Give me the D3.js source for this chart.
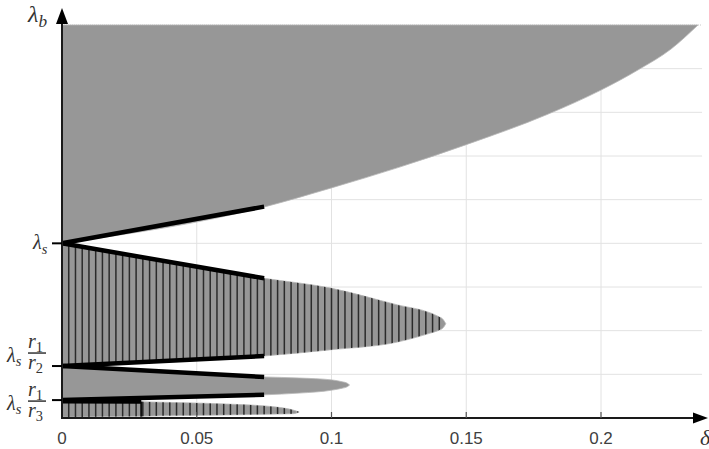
<!DOCTYPE html>
<html>
<head>
<meta charset="utf-8">
<script src="https://cdn.jsdelivr.net/npm/d3@7"></script>
<style>
  body { margin: 0; background: #fff; }
  .tick-label { font-family: "Liberation Sans", Arial, sans-serif; font-size: 17px; fill: #404040; }
  .math { font-family: "Liberation Serif", "DejaVu Serif", serif; font-style: italic; fill: #333; }
</style>
</head>
<body>
<svg id="chart" width="709" height="449"></svg>
<script>
// x axis (delta) ticks and labels
const deltaTicks = [0, 0.05, 0.1, 0.15, 0.2];
const deltaTickLabels = ["0", "0.05", "0.1", "0.15", "0.2"];
// lambda axis: grid steps (relative units), lambda_b sits on the top line
const lambdaGrid = [1, 2, 3, 4, 5, 6, 7, 8, 9];
const lambdaB = 9;
const lambdaS = 4;
const lambdaSr1r2 = 1.19;
const lambdaSr1r3 = 0.41;

// right boundary of the upper plain gray region  [delta, lambda]
const upperEdge = [[0, 4], [0.0755, 4.84], [0.1, 5.27], [0.125, 5.74], [0.15, 6.26], [0.18, 6.95],
                   [0.2, 7.51], [0.214, 7.98], [0.226, 8.45], [0.236, 9]];
// hatched lobe between lambda_s and lambda_s r1/r2  [delta, lower, upper]
const lobeA = [[0, 1.19, 4], [0.075, 1.42, 3.2], [0.0993, 1.56, 2.98], [0.1245, 1.74, 2.59],
               [0.137, 1.95, 2.40], [0.1395, 2.0, 2.33], [0.1415, 2.07, 2.25], [0.1424, 2.16, 2.16]];
// plain lobe between lambda_s r1/r2 and lambda_s r1/r3
const lobeB = [[0, 0.41, 1.19], [0.075, 0.53, 0.94], [0.088, 0.57, 0.916], [0.1004, 0.64, 0.87],
               [0.104, 0.683, 0.829], [0.1058, 0.714, 0.798], [0.1067, 0.756, 0.756]];
// hatched lobe below lambda_s r1/r3
const lobeC = [[0, 0.02, 0.39], [0.0294, 0.04, 0.37], [0.045, 0.055, 0.35], [0.061, 0.07, 0.32],
               [0.0796, 0.09, 0.25], [0.086, 0.1, 0.178], [0.088, 0.137, 0.137]];
// thick black boundary segments [[delta, lambda], [delta, lambda]]
const blackEdges = [
  [[0, 4], [0.075, 4.84]],
  [[0, 4], [0.075, 3.2]],
  [[0, 1.19], [0.075, 1.42]],
  [[0, 1.19], [0.075, 0.94]],
  [[0, 0.41], [0.075, 0.53]],
  [[0, 0.385], [0.0294, 0.375]]
];
const hatchStep = 0.0025;

const svg = d3.select("#chart");
const x = d3.scaleLinear().domain([0, 0.2]).range([62, 601]);
const y = d3.scaleLinear().domain([0, 9]).range([418, 25]);
const xRight = x(0.2375);

// grid
const grid = svg.append("g");
grid.selectAll(".hg").data(lambdaGrid).join("line")
  .attr("x1", x(0)).attr("x2", xRight)
  .attr("y1", d => y(d)).attr("y2", d => y(d))
  .attr("stroke", d => d === lambdaB ? "#c8c8c8" : "#e2e2e2")
  .attr("stroke-dasharray", d => d === lambdaB ? "1,1" : null)
  .attr("stroke-width", 1);
grid.selectAll(".vg").data(deltaTicks.slice(1)).join("line")
  .attr("x1", d => x(d)).attr("x2", d => x(d))
  .attr("y1", y(0)).attr("y2", y(9))
  .attr("stroke", "#e2e2e2").attr("stroke-width", 1);

const gray = "#979797";
const line = d3.line().x(d => x(d[0])).y(d => y(d[1]));
const smooth = d3.line().x(d => x(d[0])).y(d => y(d[1])).curve(d3.curveMonotoneX);
const area = d3.area().x(d => x(d[0])).y0(d => y(d[1])).y1(d => y(d[2])).curve(d3.curveMonotoneX);

// upper region
svg.append("path")
  .attr("d", smooth(upperEdge) + `L${x(0)},${y(lambdaB)}Z`)
  .attr("fill", gray).attr("stroke", "#b8b8b8").attr("stroke-width", 0.8);

// lobes
const lobes = [{ id: "lobeA", data: lobeA, hatch: true },
               { id: "lobeB", data: lobeB, hatch: false },
               { id: "lobeC", data: lobeC, hatch: true }];
const defs = svg.append("defs");
lobes.forEach(l => {
  svg.append("path").attr("d", area(l.data))
    .attr("fill", gray).attr("stroke", "#b8b8b8").attr("stroke-width", 0.8);
  if (l.hatch) {
    defs.append("clipPath").attr("id", "clip-" + l.id)
      .append("path").attr("d", area(l.data));
    const maxD = l.data[l.data.length - 1][0];
    svg.append("g").attr("clip-path", `url(#clip-${l.id})`)
      .selectAll("line").data(d3.range(0, maxD, hatchStep)).join("line")
      .attr("x1", d => x(d)).attr("x2", d => x(d))
      .attr("y1", y(0)).attr("y2", y(9))
      .attr("stroke", "#2b2b2b").attr("stroke-width", 1.5);
  }
});
// edge of the dense part of the lowest lobe
svg.append("line")
  .attr("x1", x(0.0294)).attr("x2", x(0.0294))
  .attr("y1", y(0.375)).attr("y2", y(0.03))
  .attr("stroke", "#111").attr("stroke-width", 2);

// thick black boundaries
svg.append("g").selectAll("path").data(blackEdges).join("path")
  .attr("d", d => line(d))
  .attr("stroke", "#000").attr("stroke-width", 4.5).attr("fill", "none");

// axes
const axisColor = "#1a1a1a";
svg.append("line").attr("x1", x(0) - 1).attr("x2", 696).attr("y1", y(0)).attr("y2", y(0))
  .attr("stroke", axisColor).attr("stroke-width", 2);
svg.append("path").attr("d", `M693,${y(0) - 5.5}L708,${y(0)}L693,${y(0) + 5.5}Z`).attr("fill", "#000");
svg.append("line").attr("x1", x(0)).attr("x2", x(0)).attr("y1", y(0) + 1).attr("y2", 22)
  .attr("stroke", axisColor).attr("stroke-width", 2);
svg.append("path").attr("d", `M${x(0) - 6},24L${x(0)},8L${x(0) + 6},24Z`).attr("fill", "#000");

// x ticks
svg.selectAll(".xt").data(deltaTicks.slice(1)).join("line")
  .attr("x1", d => x(d)).attr("x2", d => x(d))
  .attr("y1", y(0) - 6).attr("y2", y(0))
  .attr("stroke", "#555").attr("stroke-width", 1.2);
svg.selectAll(".xl").data(deltaTicks).join("text")
  .attr("class", "tick-label")
  .attr("x", d => x(d)).attr("y", 444)
  .attr("text-anchor", "middle")
  .text((d, i) => deltaTickLabels[i]);

// y ticks
[lambdaS, lambdaSr1r2, lambdaSr1r3].forEach(v => {
  svg.append("line").attr("x1", 52).attr("x2", x(0)).attr("y1", y(v)).attr("y2", y(v))
    .attr("stroke", "#000").attr("stroke-width", 2);
});

// math labels
function lam(xp, yp, sub, size) {
  const t = svg.append("text").attr("class", "math").attr("x", xp).attr("y", yp)
    .attr("font-size", size);
  t.append("tspan").text("λ");
  t.append("tspan").attr("dy", size * 0.22).attr("font-size", size * 0.72).text(sub);
}
function rsub(xp, yp, sub, size) {
  const t = svg.append("text").attr("class", "math").attr("x", xp).attr("y", yp)
    .attr("font-size", size);
  t.append("tspan").text("r");
  t.append("tspan").attr("dy", size * 0.2).attr("font-size", size * 0.72)
    .style("font-style", "normal").text(sub);
}
function fracLabel(yBar, denom) {
  lam(7, yBar + 9, "s", 20);
  rsub(28, yBar - 5, "1", 20);
  svg.append("line").attr("x1", 28).attr("x2", 46).attr("y1", yBar).attr("y2", yBar)
    .attr("stroke", "#333").attr("stroke-width", 1.5);
  rsub(28, yBar + 16, denom, 20);
}

lam(28, 22, "b", 24);
lam(33, y(lambdaS) + 6, "s", 20);
fracLabel(y(lambdaSr1r2) - 13, "2");
fracLabel(y(lambdaSr1r3) + 1, "3");

svg.append("text").attr("class", "math").attr("x", 700).attr("y", 445)
  .attr("font-size", 22).text("δ");
</script>
</body>
</html>
